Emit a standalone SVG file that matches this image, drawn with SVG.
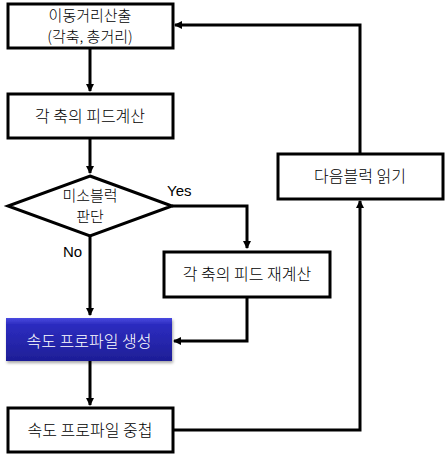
<svg xmlns="http://www.w3.org/2000/svg" width="445" height="456" viewBox="0 0 445 456">
<style>
.box{fill:#fff;stroke:#000;stroke-width:3}
.t{font-family:"Noto Sans CJK KR","Liberation Sans",sans-serif;font-size:16px;font-weight:300;fill:#000;text-anchor:middle}
.s{font-size:15px}
.w{fill:#fff}
.lbl{font-family:"Liberation Sans",Arial,sans-serif;font-size:15px;fill:#000}
.c{fill:none;stroke:#000;stroke-width:3}
</style>
<defs>
<marker id="ah" markerWidth="8" markerHeight="8" refX="7" refY="4" orient="auto" markerUnits="userSpaceOnUse">
<path d="M0,0 L8,4 L0,8 Z" fill="#000"/>
</marker>
<linearGradient id="bg" x1="0" y1="0" x2="0" y2="1">
<stop offset="0" stop-color="#4a4ae0"/>
<stop offset="0.15" stop-color="#2c2cc0"/>
<stop offset="1" stop-color="#1e1e96"/>
</linearGradient>
<filter id="sh" x="-10%" y="-20%" width="125%" height="150%">
<feDropShadow dx="1" dy="2" stdDeviation="1.5" flood-color="#000" flood-opacity="0.35"/>
</filter>
</defs>
<g id="connectors">
<path class="c" d="M90,48 V91" marker-end="url(#ah)"/>
<path class="c" d="M90,138 V173" marker-end="url(#ah)"/>
<path class="c" d="M172,206 H247 V248" marker-end="url(#ah)"/>
<path class="c" d="M90,236 V315" marker-end="url(#ah)"/>
<path class="c" d="M247,296 V341 H174" marker-end="url(#ah)"/>
<path class="c" d="M90,361 V405" marker-end="url(#ah)"/>
<path class="c" d="M173,430 H360 V201" marker-end="url(#ah)"/>
<path class="c" d="M360,153 V25 H175" marker-end="url(#ah)"/>
<text class="lbl" x="167" y="196">Yes</text>
<text class="lbl" x="63" y="257">No</text>
</g>
<g id="n1">
<rect class="box" x="8" y="4" width="165" height="44"/>
<text class="t s" x="90" y="21">이동거리산출</text>
<text class="t s" x="90" y="42">(각축, 총거리)</text>
</g>
<g id="n2">
<rect class="box" x="8" y="94" width="165" height="44"/>
<text class="t" x="90" y="122">각 축의 피드계산</text>
</g>
<g id="n3">
<polygon class="box" points="90,176 172,206 90,236 8,206"/>
<text class="t s" x="90" y="201">미소블럭</text>
<text class="t s" x="90" y="222">판단</text>
</g>
<g id="n4">
<rect class="box" x="164" y="252" width="166" height="45"/>
<text class="t" x="247" y="280">각 축의 피드 재계산</text>
</g>
<g id="n5">
<rect x="6" y="318" width="166" height="43" fill="url(#bg)" filter="url(#sh)"/>
<text class="t w" x="89" y="347">속도 프로파일 생성</text>
</g>
<g id="n6">
<rect class="box" x="8" y="408" width="165" height="44"/>
<text class="t" x="90" y="436">속도 프로파일 중첩</text>
</g>
<g id="n7">
<rect class="box" x="278" y="154" width="165" height="45"/>
<text class="t" x="360" y="182">다음블럭 읽기</text>
</g>
</svg>
